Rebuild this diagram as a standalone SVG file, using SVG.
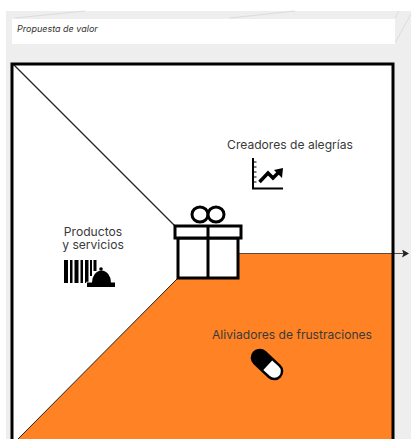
<svg xmlns="http://www.w3.org/2000/svg" width="411" height="439" viewBox="0 0 411 439">
<style>
.t{font-family:"Inter","Liberation Sans",sans-serif;font-size:12.1px;fill:#3a3a3a}
.o{fill:none;stroke:#000;stroke-width:3}
</style>
<defs><marker id="arrow" markerWidth="7" markerHeight="8" refX="6" refY="4" orient="auto" markerUnits="userSpaceOnUse"><path d="M0 0L7 4L0 8L1.500 4Z" fill="#222"/></marker></defs>
<rect width="411" height="439" fill="#fff"/>
<rect id="background" x="6" y="11" width="405" height="428" fill="#eeeeee"/>
<g id="title">
<path d="M15 18L85 11M230 18L295 11" stroke="#dcdcdc" stroke-width="1" fill="none"/>
<path d="M395 43L411 14M395 18L399 11" stroke="#dcdcdc" stroke-width="1" fill="none"/>
<rect x="12" y="19" width="383" height="25" fill="#fff"/>
<text x="17" y="32" font-family="Inter,'Liberation Sans',sans-serif" font-size="9" font-style="italic" fill="#333">Propuesta de valor</text>
</g>
<g id="canvas">
<rect x="13" y="64" width="380" height="375" fill="#fff"/>
<path d="M238 253H393V439H18L178 278H238Z" fill="#ff8324"/>
</g>
<g id="connectors">
<path d="M13 64L175 226" fill="none" stroke="#222" stroke-width="1.2"/>
<path d="M18 439L178 278" fill="none" stroke="#222" stroke-width="1"/>
<path d="M238 253.500H408" fill="none" stroke="#5a4a40" stroke-width="1.200" marker-end="url(#arrow)"/>
</g>
<rect x="12" y="64" width="381" height="380" class="o"/>
<g id="gift">
<rect x="178" y="238" width="60" height="40" fill="#fff" stroke="#000" stroke-width="3"/>
<rect x="175" y="226" width="66" height="12" fill="#fff" stroke="#000" stroke-width="3"/>
<path d="M208 226V278" class="o"/>
<ellipse cx="200" cy="214.500" rx="8" ry="7.500" fill="#fff" stroke="#000" stroke-width="3"/>
<ellipse cx="216" cy="214.500" rx="8" ry="7.500" fill="#fff" stroke="#000" stroke-width="3"/>
</g>
<g id="productos">
<text class="t" text-anchor="middle"><tspan x="93" y="236">Productos</tspan><tspan x="93" y="249">y servicios</tspan></text>
<path d="M64 260h4v23h-4zM70 260h2.500v23h-2.500zM74.500 260h4v23h-4zM80.500 260h2.500v23h-2.500zM85 260h3.500v23h-3.500zM90 260h2v16h-2zM93.500 260h3v11h-3z" fill="#000"/>
<path d="M87 282.500h5a9.500 12 0 0 1 19 0h4v4.500h-28z" fill="#000" stroke="#fff" stroke-width="1.500" paint-order="stroke"/>
<circle cx="101" cy="269" r="1.800" fill="#000"/>
</g>
<g id="creadores">
<text class="t" x="290" y="149" text-anchor="middle">Creadores de alegrías</text>
<path d="M253 158V188.500H283" fill="none" stroke="#000" stroke-width="2"/>
<path d="M253 162h3.500M253 167h3.500M253 172h3.500M253 177h3.500M253 182h3.500" stroke="#000" stroke-width="1.200"/>
<path d="M259.500 182L268 173L273 178L279 172" fill="none" stroke="#000" stroke-width="3.500"/>
<path d="M274 170L283 168L282 178Z" fill="#000"/>
</g>
<g id="aliviadores">
<text class="t" x="292" y="339" text-anchor="middle">Aliviadores de frustraciones</text>
<g transform="rotate(43 267 364.500)">
<rect x="249" y="356.500" width="36" height="16" rx="8" fill="#000" stroke="#000" stroke-width="2"/>
<path d="M268 358h9a6.500 6.500 0 0 1 0 13h-9z" fill="#fff"/>
</g>
</g>
</svg>
